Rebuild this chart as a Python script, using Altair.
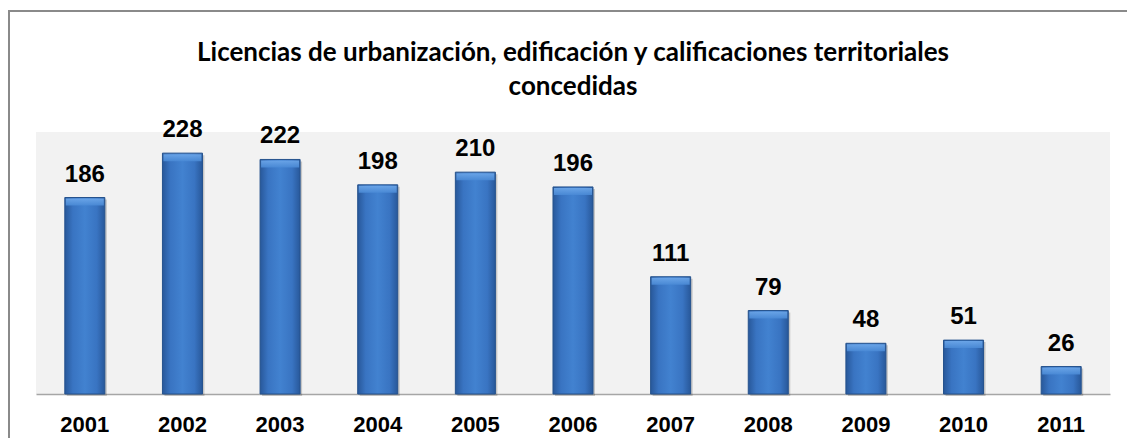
import altair as alt
import pandas as pd

years = ["2001", "2002", "2003", "2004", "2005", "2006", "2007", "2008", "2009", "2010", "2011"]
values = [186, 228, 222, 198, 210, 196, 111, 79, 48, 51, 26]
title_lines = ["Licencias de urbanización, edificación y calificaciones territoriales", "concedidas"]

df = pd.DataFrame({"year": years, "value": values})

W, H = 1074, 262

xenc = alt.X(
    "year:N",
    sort=years,
    scale=alt.Scale(paddingInner=0.59, paddingOuter=0.295),
    axis=alt.Axis(
        title=None,
        ticks=False,
        grid=False,
        labelAngle=0,
        labelFont="Liberation Sans",
        labelFontWeight="bold",
        labelFontSize=22,
        labelColor="#000000",
        labelPadding=20,
        domainColor="#a6a6a6",
        domainWidth=1.5,
    ),
)
yenc = alt.Y("value:Q", scale=alt.Scale(domain=[0, 248], nice=False, zero=True), axis=None)

base = alt.Chart(df).encode(x=xenc, y=yenc)

bar_grad = alt.LinearGradient(
    gradient="linear",
    stops=[
        alt.GradientStop(color="#28589a", offset=0),
        alt.GradientStop(color="#3974c2", offset=0.2),
        alt.GradientStop(color="#4282d0", offset=0.5),
        alt.GradientStop(color="#3974c2", offset=0.8),
        alt.GradientStop(color="#28589a", offset=1),
    ],
    x1=0, x2=1, y1=0, y2=0,
)

shadow = base.mark_bar(color="#000000", opacity=0.18, xOffset=2, yOffset=2)
bars = base.mark_bar(color=bar_grad, stroke="#25528d", strokeWidth=1)
bevel = base.mark_tick(
    color=alt.LinearGradient(
        gradient="linear",
        stops=[alt.GradientStop(color="#6ea8ea", offset=0), alt.GradientStop(color="#4a8ad6", offset=1)],
        x1=0, x2=0, y1=0, y2=1,
    ),
    thickness=7,
    size=38,
    yOffset=4.5,
    opacity=0.9,
)
labels = base.mark_text(
    dy=-16,
    baseline="alphabetic",
    font="Liberation Sans",
    fontWeight="bold",
    fontSize=24,
    color="#000000",
).encode(text="value:Q")

frame = alt.Chart(pd.DataFrame({"a": [0]})).mark_rect(
    fillOpacity=0, stroke="#8a8a8a", strokeWidth=2
).encode(
    x=alt.value(-27), x2=alt.value(W + 100), y=alt.value(-121), y2=alt.value(H + 100)
)

chart = alt.layer(shadow, bars, bevel, labels, frame).properties(
    width=W,
    height=H,
    padding={"left": 28, "top": 124, "right": 17, "bottom": 44},
    autosize=alt.AutoSizeParams(type="none"),
    background="white",
    title=alt.TitleParams(
        title_lines,
        font="Lato",
        fontSize=26,
        fontWeight="bold",
        lineHeight=34,
        anchor="middle",
        frame="group",
        color="#000000",
        offset=36,
        dy=126,
    ),
).configure_view(fill="#f2f2f2", stroke=None)

chart.save("out.html", embed_options={"renderer": "svg", "actions": False})
